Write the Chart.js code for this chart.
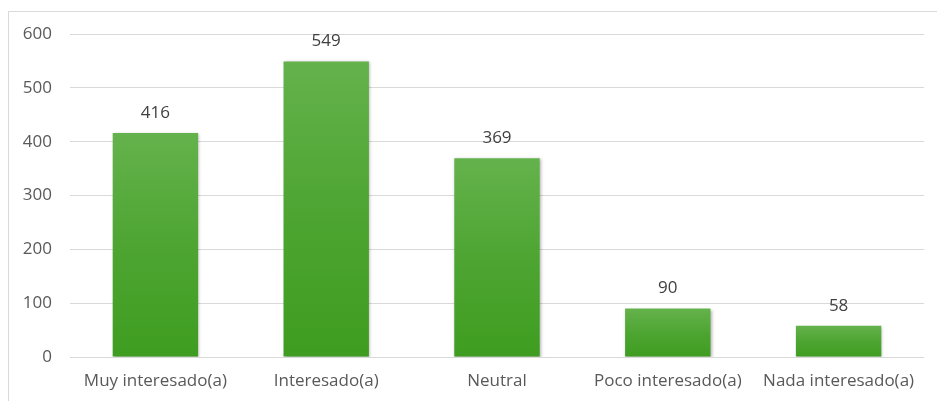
<!DOCTYPE html>
<html>
<head>
<meta charset="utf-8">
<script src="https://cdn.jsdelivr.net/npm/chart.js@4/dist/chart.umd.min.js"></script>
<style>
  html, body { margin: 0; padding: 0; background: #fff; overflow: hidden; }
  #frame { position: absolute; left: 8px; top: 11px; width: 940px; height: 400px; border: 1px solid #d9d9d9; }
  #wrap { position: absolute; left: 0; top: 0; width: 937px; height: 401px; }
</style>
</head>
<body>
<div id="frame"></div>
<div id="wrap"><canvas id="chart" width="937" height="401"></canvas></div>
<script>
"use strict"

// categorias y valores
const categorias = ["Muy interesado(a)", "Interesado(a)", "Neutral", "Poco interesado(a)", "Nada interesado(a)"];
const valores = [416, 549, 369, 90, 58];
const ticksY = [0, 100, 200, 300, 400, 500, 600];

const fuente = "'Open Sans', 'Liberation Sans', sans-serif";

// gradiente verde para cada barra
let colorBarra = function(ctx){
    const chart = ctx.chart;
    if(!chart.chartArea || !chart.scales.y) return '#4ca630';
    const y = chart.scales.y;
    const top = y.getPixelForValue(ctx.raw);
    const base = y.getPixelForValue(0);
    const g = chart.ctx.createLinearGradient(0, top, 0, base);
    g.addColorStop(0, '#64b24c');
    g.addColorStop(0.5, '#4ea532');
    g.addColorStop(1, '#3e9d20');
    return g;
}

// sombra suave bajo las barras
const sombra = {
    id: 'sombra',
    beforeDatasetsDraw(chart){
        const c = chart.ctx;
        c.save();
        c.shadowColor = 'rgba(0,0,0,0.3)';
        c.shadowBlur = 3;
        c.shadowOffsetX = 1;
        c.shadowOffsetY = 1;
    },
    afterDatasetsDraw(chart){
        chart.ctx.restore();
    }
};

// etiquetas de valor encima de las barras
const etiquetas = {
    id: 'etiquetas',
    afterDatasetsDraw(chart){
        const c = chart.ctx;
        const meta = chart.getDatasetMeta(0);
        c.save();
        c.font = "17px " + fuente;
        c.fillStyle = '#404040';
        c.textAlign = 'center';
        c.textBaseline = 'middle';
        meta.data.forEach((bar, i) => {
            c.fillText(String(valores[i]), bar.x, bar.y - 20);
        });
        c.restore();
    }
};

new Chart(document.getElementById("chart"), {
    type: 'bar',
    data: {
        labels: categorias,
        datasets: [{
            data: valores,
            backgroundColor: colorBarra,
            borderWidth: 0,
            barPercentage: 0.5,
            categoryPercentage: 1
        }]
    },
    options: {
        responsive: false,
        animation: false,
        events: [],
        layout: { padding: { left: 0, right: 13, top: 34, bottom: 0 } },
        plugins: { legend: { display: false }, tooltip: { enabled: false } },
        scales: {
            x: {
                grid: { display: false, drawTicks: false },
                border: { display: false },
                ticks: { color: '#595959', font: { family: fuente, size: 17 }, padding: 14, maxRotation: 0, autoSkip: false },
                afterFit(scale){ scale.height = 44; }
            },
            y: {
                min: 0,
                max: 600,
                afterBuildTicks(scale){ scale.ticks = ticksY.map(v => ({ value: v })); },
                grid: { color: '#d9d9d9', lineWidth: 1, drawTicks: false },
                border: { display: false },
                ticks: { color: '#595959', font: { family: fuente, size: 17 }, padding: 18 },
                afterFit(scale){ scale.width = 70; }
            }
        }
    },
    plugins: [sombra, etiquetas]
});
</script>
</body>
</html>
